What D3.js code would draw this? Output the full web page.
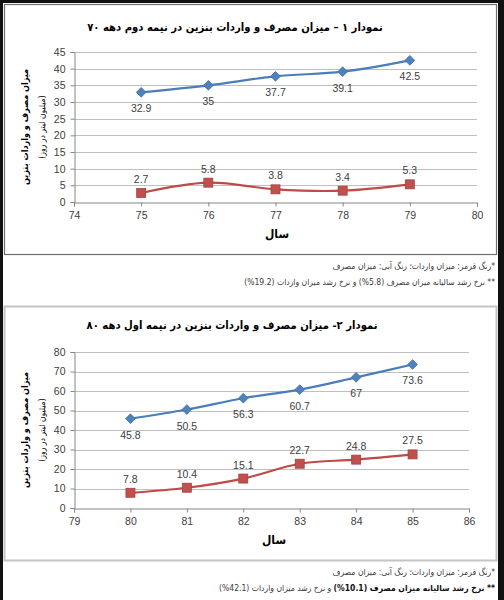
<!DOCTYPE html>
<html>
<head>
<meta charset="utf-8">
<script src="https://cdn.jsdelivr.net/npm/d3@7"></script>
<style>
  body { margin: 0; background: #fff; }
  svg { display: block; }
</style>
</head>
<body>
<svg id="page" width="504" height="600"></svg>
<script>
// data
var years1 = [75, 76, 77, 78, 79];
var consumption1 = [32.9, 35, 37.7, 39.1, 42.5];
var imports1 = [2.7, 5.8, 3.8, 3.4, 5.3];
var xTicks1 = [74, 75, 76, 77, 78, 79, 80];
var yTicks1 = [0, 5, 10, 15, 20, 25, 30, 35, 40, 45];

var years2 = [80, 81, 82, 83, 84, 85];
var consumption2 = [45.8, 50.5, 56.3, 60.7, 67, 73.6];
var imports2 = [7.8, 10.4, 15.1, 22.7, 24.8, 27.5];
var xTicks2 = [79, 80, 81, 82, 83, 84, 85, 86];
var yTicks2 = [0, 10, 20, 30, 40, 50, 60, 70, 80];

var title1 = 'نمودار ۱ – میزان مصرف و واردات بنزین در نیمه دوم دهه ۷۰';
var title2 = 'نمودار ۲- میزان مصرف و واردات بنزین در نیمه اول دهه ۸۰';
var yLabel = 'میزان مصرف و واردات بنزین';
var yLabel2 = '(میلیون لیتر در روز)';
var xLabel = 'سال';
var note1 = '*رنگ قرمز: میزان واردات؛ رنگ آبی: میزان مصرف';
// LRO ... PDF keeps the percent sign on the left, as in the scan
var pct = function(s) { return '(\u202D%' + s + '\u202C)'; };
var note2a = [['** نرخ رشد سالیانه میزان مصرف ' + pct('5.8') + ' و نرخ رشد میزان واردات ' + pct('19.2'), false]];
var note2b = [['** نرخ رشد سالیانه میزان مصرف ' + pct('10.1'), true], [' و نرخ رشد میزان واردات ' + pct('42.1'), false]];

var fa = '"DejaVu Sans Condensed", "DejaVu Sans", sans-serif';
var num = '"Liberation Sans", Arial, sans-serif';

var svg = d3.select('#page');

// black frame around the scan
svg.append('rect').attr('x', 0).attr('y', 0).attr('width', 504).attr('height', 600).attr('fill', '#111');
svg.append('rect').attr('x', 3).attr('y', 3).attr('width', 495).attr('height', 597).attr('fill', '#fff');

function drawChart(c) {
  var g = svg.append('g');

  g.append('rect')
    .attr('x', c.box[0] + 0.5).attr('y', c.box[1] + 0.5)
    .attr('width', c.box[2]).attr('height', c.box[3])
    .attr('fill', '#fff').attr('stroke', c.boxColor).attr('stroke-width', c.boxWidth);

  var x = d3.scaleLinear().domain(c.xDomain).range(c.xRange);
  var y = d3.scaleLinear().domain(c.yDomain).range(c.yRange);

  // grid lines
  g.append('g').selectAll('line')
    .data(c.yTicks.slice(1))
    .enter().append('line')
    .attr('x1', c.xRange[0]).attr('x2', c.xRange[1])
    .attr('y1', function(d) { return Math.round(y(d)) + 0.5; })
    .attr('y2', function(d) { return Math.round(y(d)) + 0.5; })
    .attr('stroke', '#bfbfbf').attr('stroke-width', 1);

  var xAxis = g.append('g')
    .attr('transform', 'translate(0,' + (Math.round(y(0)) + 0.5) + ')')
    .call(d3.axisBottom(x).tickValues(c.xTicks).tickSize(4).tickPadding(5).tickFormat(d3.format('d')));
  var yAxis = g.append('g')
    .attr('transform', 'translate(' + (Math.round(c.xRange[0]) + 0.5) + ',0)')
    .call(d3.axisLeft(y).tickValues(c.yTicks).tickSize(4).tickPadding(5).tickFormat(d3.format('d')));

  [xAxis, yAxis].forEach(function(a) {
    a.select('.domain').attr('stroke', '#868686');
    a.selectAll('.tick line').attr('stroke', '#868686');
    a.selectAll('.tick text').attr('fill', '#404040').style('font-family', num).style('font-size', '10.5px');
  });

  // title
  g.append('text')
    .attr('x', c.titleX).attr('y', c.titleY)
    .attr('text-anchor', 'middle').attr('direction', 'rtl')
    .style('font-family', fa).style('font-weight', 'bold').style('font-size', '11.2px')
    .attr('fill', '#000')
    .text(c.title);

  // axis titles
  g.append('text')
    .attr('x', c.xLabelX).attr('y', c.xLabelY)
    .attr('text-anchor', 'middle').attr('direction', 'rtl')
    .style('font-family', fa).style('font-weight', 'bold').style('font-size', '12px')
    .text(xLabel);

  var yMid = (c.yRange[0] + c.yRange[1]) / 2;
  g.append('text')
    .attr('transform', 'translate(28,' + yMid + ') rotate(-90)')
    .attr('text-anchor', 'middle').attr('direction', 'rtl')
    .style('font-family', fa).style('font-weight', 'bold').style('font-size', '9px')
    .text(yLabel);
  g.append('text')
    .attr('transform', 'translate(45,' + yMid + ') rotate(-90)')
    .attr('text-anchor', 'middle').attr('direction', 'rtl')
    .style('font-family', fa).style('font-size', '8.5px')
    .text(yLabel2);

  var line = d3.line()
    .x(function(d) { return x(d[0]); })
    .y(function(d) { return y(d[1]); })
    .curve(d3.curveCatmullRom.alpha(0));

  var blue = d3.zip(c.years, c.consumption);
  var red = d3.zip(c.years, c.imports);

  g.append('path').datum(blue)
    .attr('d', line).attr('fill', 'none')
    .attr('stroke', '#4a7ebb').attr('stroke-width', 2.2);
  g.append('path').datum(red)
    .attr('d', line).attr('fill', 'none')
    .attr('stroke', '#be4b48').attr('stroke-width', 2.2);

  g.append('g').selectAll('path')
    .data(blue)
    .enter().append('path')
    .attr('d', d3.symbol().type(d3.symbolDiamond2).size(60))
    .attr('transform', function(d) { return 'translate(' + x(d[0]) + ',' + y(d[1]) + ')'; })
    .attr('fill', '#4f81bd').attr('stroke', '#3f6fa8').attr('stroke-width', 0.8);

  g.append('g').selectAll('rect')
    .data(red)
    .enter().append('rect')
    .attr('x', function(d) { return x(d[0]) - 4.5; })
    .attr('y', function(d) { return y(d[1]) - 4.5; })
    .attr('width', 9).attr('height', 9)
    .attr('fill', '#c0504d').attr('stroke', '#a9403d').attr('stroke-width', 0.8);

  // data labels: blue below, red above
  g.append('g').selectAll('text')
    .data(blue)
    .enter().append('text')
    .attr('x', function(d) { return x(d[0]); })
    .attr('y', function(d) { return y(d[1]) + 20; })
    .attr('text-anchor', 'middle')
    .style('font-family', num).style('font-size', '10.5px').attr('fill', '#404040')
    .text(function(d) { return d[1]; });
  g.append('g').selectAll('text')
    .data(red)
    .enter().append('text')
    .attr('x', function(d) { return x(d[0]); })
    .attr('y', function(d) { return y(d[1]) - 10; })
    .attr('text-anchor', 'middle')
    .style('font-family', num).style('font-size', '10.5px').attr('fill', '#404040')
    .text(function(d) { return d[1]; });

  // notes under the box
  c.notes.forEach(function(parts, i) {
    var t = g.append('text')
      .attr('x', 495).attr('y', c.notesY + i * 16)
      .attr('direction', 'rtl').attr('text-anchor', 'start')
      .style('font-family', fa).style('font-size', '8.5px')
      .attr('fill', '#3a3a3a');
    parts.forEach(function(p) {
      t.append('tspan').style('font-weight', p[1] ? 'bold' : 'normal')
        .attr('fill', p[1] ? '#111' : '#3a3a3a').text(p[0]);
    });
  });
}

// title x values include a small nudge: the rtl text sits right of its anchor
drawChart({
  box: [4, 4, 492, 250], boxColor: '#707070', boxWidth: 1.2,
  xDomain: [74, 80], xRange: [74, 477],
  yDomain: [0, 45], yRange: [202, 52],
  xTicks: xTicks1, yTicks: yTicks1,
  years: years1, consumption: consumption1, imports: imports1,
  title: title1, titleX: 235, titleY: 31,
  xLabelX: 277, xLabelY: 238,
  notes: [[[note1, false]], note2a],
  notesY: 269
});

drawChart({
  box: [4, 306, 492, 254], boxColor: '#c4c4c4', boxWidth: 2,
  xDomain: [79, 86], xRange: [74, 469],
  yDomain: [0, 80], yRange: [508, 352],
  xTicks: xTicks2, yTicks: yTicks2,
  years: years2, consumption: consumption2, imports: imports2,
  title: title2, titleX: 232, titleY: 329,
  xLabelX: 274, xLabelY: 544,
  notes: [[[note1, false]], note2b],
  notesY: 575
});
</script>
</body>
</html>
